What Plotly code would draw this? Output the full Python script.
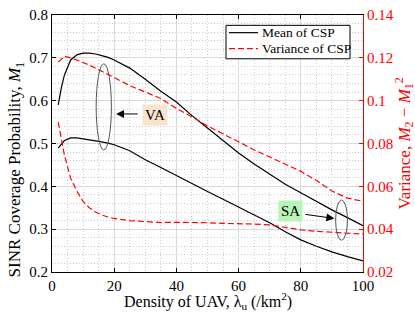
import plotly.graph_objects as go

density = [2, 3, 4, 6, 8, 10, 12, 14, 16, 18, 20, 25, 30, 35, 40, 45, 50, 55, 60, 65, 70, 75, 80, 85, 90, 95, 100]

mean_va = [0.590, 0.630, 0.660, 0.695, 0.707, 0.711, 0.711, 0.709, 0.705, 0.701, 0.695, 0.676, 0.650, 0.622,
           0.597, 0.565, 0.536, 0.507, 0.478, 0.452, 0.428, 0.405, 0.385, 0.365, 0.345, 0.327, 0.308]
mean_sa = [0.489, 0.499, 0.507, 0.513, 0.513, 0.511, 0.509, 0.507, 0.504, 0.501, 0.497, 0.483, 0.462, 0.444,
           0.425, 0.406, 0.388, 0.370, 0.352, 0.333, 0.315, 0.294, 0.275, 0.260, 0.247, 0.236, 0.226]
var_va = [0.1180, 0.1195, 0.1207, 0.1200, 0.1190, 0.1178, 0.1166, 0.1152, 0.1137, 0.1122, 0.1108, 0.1070, 0.1040,
          0.1010, 0.0963, 0.0925, 0.0882, 0.0846, 0.0808, 0.0770, 0.0737, 0.0703, 0.0670, 0.0628, 0.0578, 0.0545, 0.0530]
var_sa = [0.0900, 0.0817, 0.0745, 0.0638, 0.0578, 0.0530, 0.0500, 0.0480, 0.0466, 0.0457, 0.0450, 0.0440, 0.0434,
          0.0431, 0.0432, 0.0432, 0.0430, 0.0427, 0.0426, 0.0424, 0.0420, 0.0407, 0.0397, 0.0390, 0.0385, 0.0380, 0.0377]

x_ticks = [0, 20, 40, 60, 80, 100]
y_ticks = [0.2, 0.3, 0.4, 0.5, 0.6, 0.7, 0.8]
y2_ticks = [0.02, 0.04, 0.06, 0.08, 0.1, 0.12, 0.14]
y2_labels = ["0.02", "0.04", "0.06", "0.08", "0.1", "0.12", "0.14"]
legend_labels = ["Mean of CSP", "Variance of CSP"]

FONT = "Liberation Serif"
RED = "#ff0000"
DASH = "6px,3px"

fig = go.Figure()
fig.add_trace(go.Scatter(x=density, y=mean_va, mode="lines", name=legend_labels[0],
                         line=dict(color="black", width=1.2)))
fig.add_trace(go.Scatter(x=density, y=mean_sa, mode="lines", name=legend_labels[0],
                         line=dict(color="black", width=1.2)))
fig.add_trace(go.Scatter(x=density, y=var_va, mode="lines", name=legend_labels[1], yaxis="y2",
                         line=dict(color=RED, width=1.2, dash=DASH)))
fig.add_trace(go.Scatter(x=density, y=var_sa, mode="lines", name=legend_labels[1], yaxis="y2",
                         line=dict(color=RED, width=1.2, dash=DASH)))

# ellipses
fig.add_shape(type="circle", xref="x", yref="y", x0=14.2, x1=19.1, y0=0.485, y1=0.686,
              line=dict(color="#555555", width=1))
fig.add_shape(type="circle", xref="x", yref="y", x0=91.2, x1=95.0, y0=0.274, y1=0.368,
              line=dict(color="#555555", width=1))

# arrows
fig.add_annotation(x=20.6, y=0.569, ax=28.0, ay=0.569, xref="x", yref="y", axref="x", ayref="y",
                   text="", showarrow=True, arrowhead=2, arrowsize=1.6, arrowwidth=1, arrowcolor="black")
fig.add_annotation(x=90.8, y=0.325, ax=81.0, ay=0.335, xref="x", yref="y", axref="x", ayref="y",
                   text="", showarrow=True, arrowhead=2, arrowsize=1.6, arrowwidth=1, arrowcolor="black")

# labels
fig.add_annotation(x=33.0, y=0.566, xref="x", yref="y", text="VA", showarrow=False,
                   font=dict(family=FONT, size=15, color="black"), bgcolor="#f8e3cf", borderpad=2)
fig.add_annotation(x=76.6, y=0.343, xref="x", yref="y", text="SA", showarrow=False,
                   font=dict(family=FONT, size=15, color="black"), bgcolor="#b8f3b8", borderpad=2)

# legend box (drawn in paper coordinates)
fig.add_shape(type="rect", xref="paper", yref="paper", x0=0.5595, x1=0.9582, y0=0.8297, y1=0.9598,
              line=dict(color="black", width=1), fillcolor="white", layer="above")
fig.add_shape(type="line", xref="paper", yref="paper", x0=0.569, x1=0.6624, y0=0.9313, y1=0.9313,
              line=dict(color="black", width=1.2), layer="above")
fig.add_shape(type="line", xref="paper", yref="paper", x0=0.569, x1=0.6624, y0=0.8688, y1=0.8688,
              line=dict(color=RED, width=1.2, dash=DASH), layer="above")
fig.add_annotation(x=0.670, y=0.9313, xref="paper", yref="paper", xanchor="left", yanchor="middle",
                   text=legend_labels[0], showarrow=False, font=dict(family=FONT, size=13.5, color="black"))
fig.add_annotation(x=0.670, y=0.8688, xref="paper", yref="paper", xanchor="left", yanchor="middle",
                   text=legend_labels[1], showarrow=False, font=dict(family=FONT, size=13.5, color="black"))

# axis titles
fig.add_annotation(x=0.5, y=-0.111, xref="paper", yref="paper", xanchor="center", yanchor="middle",
                   text="Density of UAV, λ<sub>u</sub> (/km<sup>2</sup>)", showarrow=False,
                   font=dict(family=FONT, size=16, color="black"))
fig.add_annotation(x=-0.115, y=0.4, xref="paper", yref="paper", xanchor="center", yanchor="middle",
                   text="SINR Coverage Probability, <i>M</i><sub>1</sub>", showarrow=False, textangle=-90,
                   font=dict(family=FONT, size=17, color="black"))
fig.add_annotation(x=1.132, y=0.5, xref="paper", yref="paper", xanchor="center", yanchor="middle",
                   text="Variance, <i>M</i><sub>2</sub> − <i>M</i><sub>1</sub><sup>2</sup>", showarrow=False,
                   textangle=-90, font=dict(family=FONT, size=17, color=RED))

grid_major = "#d9d9d9"
grid_minor = "#cccccc"

fig.update_layout(
    width=415, height=312,
    margin=dict(l=52, r=52, t=15, b=40),
    paper_bgcolor="white", plot_bgcolor="white",
    font=dict(family=FONT, size=14, color="black"),
    xaxis=dict(range=[0, 100], tickvals=x_ticks, ticks="inside", ticklen=4, tickcolor="black",
               showline=True, linecolor="black", linewidth=1, mirror="ticks",
               showgrid=True, gridcolor=grid_major, gridwidth=1, zeroline=False, automargin=False,
               minor=dict(dtick=5, showgrid=True, gridcolor=grid_minor, griddash="1px,2px", gridwidth=1),
               tickfont=dict(size=15, family=FONT)),
    yaxis=dict(range=[0.2, 0.8], tickvals=y_ticks, ticktext=[f"{v:.1f}" for v in y_ticks],
               ticks="inside", ticklen=4, tickcolor="black", automargin=False,
               showline=True, linecolor="black", linewidth=1,
               showgrid=True, gridcolor=grid_major, gridwidth=1, zeroline=False,
               minor=dict(dtick=0.02, showgrid=True, gridcolor=grid_minor, griddash="1px,2px", gridwidth=1),
               tickfont=dict(size=15, family=FONT)),
    yaxis2=dict(range=[0.02, 0.14], overlaying="y", side="right", tickvals=y2_ticks, ticktext=y2_labels,
                ticks="inside", ticklen=4, tickcolor=RED, automargin=False,
                showline=True, linecolor=RED, linewidth=1, showgrid=False, zeroline=False,
                tickfont=dict(size=15, color=RED, family=FONT)),
    showlegend=False,
)

fig.write_html("out.html", config={"displayModeBar": False},
               post_script="document.body.style.margin='0';document.body.style.padding='0';")
